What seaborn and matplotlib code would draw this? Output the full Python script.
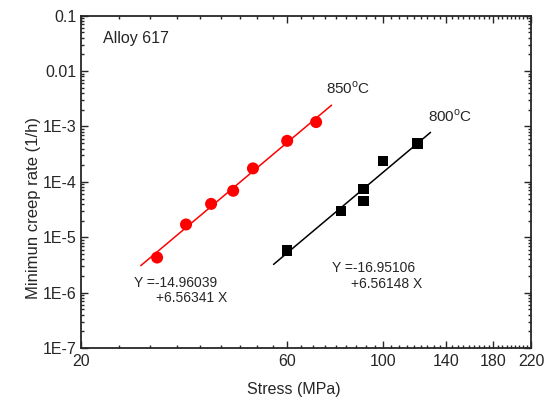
import numpy as np
import pandas as pd
import seaborn as sns
import matplotlib
matplotlib.use("Agg")
import matplotlib.pyplot as plt
from matplotlib.ticker import FixedLocator, LogLocator, NullFormatter

# data
stress_850 = [30, 35, 40, 45, 50, 60, 70]
rate_850 = [4.3e-6, 1.7e-5, 4.0e-5, 6.9e-5, 1.75e-4, 5.5e-4, 1.2e-3]
stress_800 = [60, 80, 90, 90, 100, 120]
rate_800 = [5.7e-6, 3.0e-5, 7.4e-5, 4.5e-5, 2.4e-4, 4.9e-4]

# fitted lines (log10 rate = a + b * log10 stress) and their drawn ranges
fit_850 = (-14.96039, 6.56341)
fit_850_range = [27.5, 76]
fit_800 = (-16.95106, 6.56148)
fit_800_range = [55.8, 128.8]

x_ticks = [20, 60, 100, 140, 180, 220]
y_ticks = [1e-7, 1e-6, 1e-5, 1e-4, 1e-3, 1e-2, 1e-1]
y_tick_labels = ["1E-7", "1E-6", "1E-5", "1E-4", "1E-3", "0.01", "0.1"]

sns.set_style("ticks")
plt.rcParams['font.family'] = ['Liberation Sans', 'DejaVu Sans']
plt.rcParams['mathtext.fontset'] = 'custom'
plt.rcParams['mathtext.rm'] = 'Liberation Sans'
plt.rcParams['xtick.direction'] = 'in'
plt.rcParams['ytick.direction'] = 'in'


def fit_line(coef, xr):
    x = np.array(xr, dtype=float)
    y = 10 ** (coef[0] + coef[1] * np.log10(x))
    return pd.DataFrame({"stress": x, "rate": y})


df850 = pd.DataFrame({"stress": stress_850, "rate": rate_850})
df800 = pd.DataFrame({"stress": stress_800, "rate": rate_800})

fig = plt.figure(figsize=(5.44, 4.03), dpi=100)
ax = fig.add_axes([81 / 544, 1 - 348 / 403, 450 / 544, 332.3 / 403])
ax.set_xscale("log")
ax.set_yscale("log")

sns.lineplot(data=fit_line(fit_850, fit_850_range), x="stress", y="rate",
             color="red", lw=1.1, ax=ax)
sns.lineplot(data=fit_line(fit_800, fit_800_range), x="stress", y="rate",
             color="black", lw=1.1, ax=ax)
sns.scatterplot(data=df850, x="stress", y="rate", marker="o", s=75,
                color="red", edgecolor="none", ax=ax, zorder=3)
sns.scatterplot(data=df800, x="stress", y="rate", marker="s", s=58,
                color="black", edgecolor="none", ax=ax, zorder=3)

ax.set_xlim(20, 220)
ax.set_ylim(1e-7, 0.1)

ax.xaxis.set_major_locator(FixedLocator(x_ticks))
ax.set_xticklabels([str(t) for t in x_ticks])
ax.xaxis.set_minor_locator(FixedLocator(np.arange(20, 220, 40 / 9)))
ax.xaxis.set_minor_formatter(NullFormatter())
ax.yaxis.set_major_locator(FixedLocator(y_ticks))
ax.set_yticklabels(y_tick_labels)
ax.yaxis.set_minor_locator(LogLocator(base=10, subs=np.arange(2, 10), numticks=20))
ax.yaxis.set_minor_formatter(NullFormatter())

ax.tick_params(which="both", top=True, right=True, width=1)
ax.tick_params(which="major", length=5)
ax.tick_params(which="minor", length=2.5)
ax.tick_params(axis="x", labelsize=11.5, pad=4)
ax.tick_params(axis="y", labelsize=11.5, pad=3)
for sp in ax.spines.values():
    sp.set_linewidth(1.3)

ax.set_xlabel("Stress (MPa)", fontsize=11.5)
ax.set_ylabel("Minimun creep rate (1/h)", fontsize=12)
ax.xaxis.set_label_coords((294 - 81) / 450, (348 - 382) / 332.3)
ax.yaxis.set_label_coords((41 - 81) / 450, (348 - 208) / 332.3)

tr = ax.transAxes
ax.text(0.0496, 0.932, "Alloy 617", transform=tr, fontsize=11.5, va="center")
ax.text(0.5438, 0.7824, r"850$^{\rm o}$C", transform=tr, fontsize=11, va="center")
ax.text(0.7704, 0.6982, r"800$^{\rm o}$C", transform=tr, fontsize=11, va="center")
ax.text(0.1184, 0.1971, "Y =-14.96039", transform=tr, fontsize=10, va="center")
ax.text(0.1667, 0.1505, "+6.56341 X", transform=tr, fontsize=10, va="center")
ax.text(0.5571, 0.2422, "Y =-16.95106", transform=tr, fontsize=10, va="center")
ax.text(0.5993, 0.1926, "+6.56148 X", transform=tr, fontsize=10, va="center")

fig.savefig("out.png", dpi=100)
